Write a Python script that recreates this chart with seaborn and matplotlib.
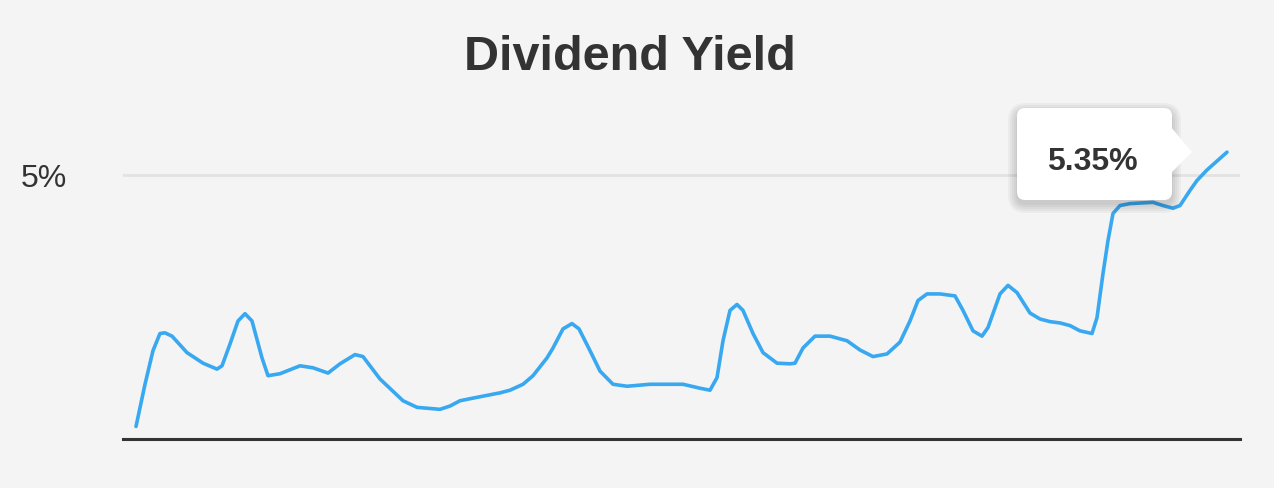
import matplotlib
matplotlib.use("Agg")
import matplotlib.pyplot as plt
import seaborn as sns
import pandas as pd
from matplotlib.patches import FancyBboxPatch, Polygon
from matplotlib.transforms import IdentityTransform

# dag (tijd vanaf begin van de reeks) en dividendrendement in %
dag = [0, 9, 17, 24, 29, 36, 51, 67, 81, 86,
       94, 102, 109, 116, 126, 132, 144, 164, 177, 192,
       204, 219, 227, 244, 267, 281, 304, 314, 324, 337,
       364, 374, 387, 397, 411, 417, 427, 436, 443, 454,
       464, 477, 491, 514, 547, 564, 574, 581, 587, 594,
       601, 607, 617, 627, 641, 654, 659, 667, 679, 694,
       711, 724, 737, 751, 764, 774, 782, 791, 804, 819,
       827, 837, 846, 852, 864, 872, 881, 894, 904, 914,
       924, 934, 944, 956, 961, 967, 972, 977, 984, 994,
       1017, 1027, 1037, 1044, 1054, 1061, 1071, 1091]
rendement = [1.19, 1.83, 2.34, 2.60, 2.61, 2.56, 2.31, 2.15, 2.06, 2.11,
             2.44, 2.79, 2.90, 2.79, 2.23, 1.96, 1.99, 2.11, 2.08, 2.00,
             2.14, 2.28, 2.25, 1.91, 1.58, 1.48, 1.45, 1.50, 1.58, 1.62,
             1.70, 1.74, 1.83, 1.96, 2.23, 2.38, 2.67, 2.75, 2.67, 2.34,
             2.03, 1.83, 1.80, 1.83, 1.83, 1.77, 1.74, 1.93, 2.49, 2.95,
             3.04, 2.95, 2.60, 2.31, 2.15, 2.14, 2.15, 2.38, 2.56, 2.56,
             2.49, 2.35, 2.25, 2.29, 2.47, 2.79, 3.10, 3.20, 3.20, 3.17,
             2.95, 2.64, 2.56, 2.69, 3.20, 3.33, 3.22, 2.91, 2.82, 2.78,
             2.76, 2.72, 2.64, 2.60, 2.84, 3.51, 4.01, 4.42, 4.54, 4.57,
             4.59, 4.54, 4.50, 4.54, 4.77, 4.92, 5.08, 5.35]
y_ticks = [5]
y_tick_labels = ["5%"]
titel = "Dividend Yield"
tooltip_text = "5.35%"

BG = "#f4f4f4"
LINHA = "#38a8f0"
TEXTO = "#333333"

sns.set_theme(style="white")
plt.rcParams['font.family'] = ['Liberation Sans', 'DejaVu Sans']

df = pd.DataFrame({"dag": dag, "rendement": rendement})

fig = plt.figure(figsize=(12.74, 4.88), dpi=100)
fig.patch.set_facecolor(BG)
ax = fig.add_axes([123 / 1274, 1 - 439 / 488, (1240 - 123) / 1274, (439 - 109.3) / 488])
ax.set_facecolor(BG)

# gridline op 5%
ax.axhline(5, color="#e3e3e3", lw=2, zorder=1)

sns.lineplot(data=df, x="dag", y="rendement", ax=ax, color=LINHA, linewidth=2.6,
             solid_joinstyle="round", solid_capstyle="round", zorder=3)

ax.set_xlim(-13, 1104)
ax.set_ylim(1, 6)
ax.set_yticks(y_ticks)
ax.set_yticklabels(y_tick_labels, fontsize=23, color=TEXTO)
ax.tick_params(axis="y", length=0, pad=40)
ax.set_xticks([])
ax.set_xlabel("")
ax.set_ylabel("")
for s in ["top", "right", "left"]:
    ax.spines[s].set_visible(False)
ax.spines["bottom"].set_color(TEXTO)
ax.spines["bottom"].set_linewidth(2.2)

fig.text(630 / 1274, 1 - 70 / 488, titel, ha="center", va="baseline",
         fontsize=35, fontweight="bold", color=TEXTO)

# tooltip (pixelcoordinaten, oorsprong linksonder)
H = 488
ident = IdentityTransform()
for i in range(5):
    g = 2 + i * 2
    sh = FancyBboxPatch((1017 - g + 1, H - 200 - g - 3), 155 + 2 * g - 2, 92 + 2 * g - 2,
                        boxstyle="round,pad=0,rounding_size=%d" % (8 + g),
                        transform=ident, facecolor="black", edgecolor="none",
                        alpha=0.035, zorder=5)
    fig.patches.append(sh)
box = FancyBboxPatch((1017, H - 200), 155, 92, boxstyle="round,pad=0,rounding_size=8",
                     transform=ident, facecolor="white", edgecolor="none", zorder=6)
fig.patches.append(box)
seta = Polygon([(1170, H - 126), (1192, H - 152), (1170, H - 174)], closed=True,
               transform=ident, facecolor="white", edgecolor="none", zorder=6)
fig.patches.append(seta)
fig.text(1092 / 1274, 1 - 170 / 488, tooltip_text, ha="center", va="baseline",
         fontsize=23, fontweight="bold", color=TEXTO, zorder=7)

fig.savefig("out.png", dpi=100, facecolor=BG)
